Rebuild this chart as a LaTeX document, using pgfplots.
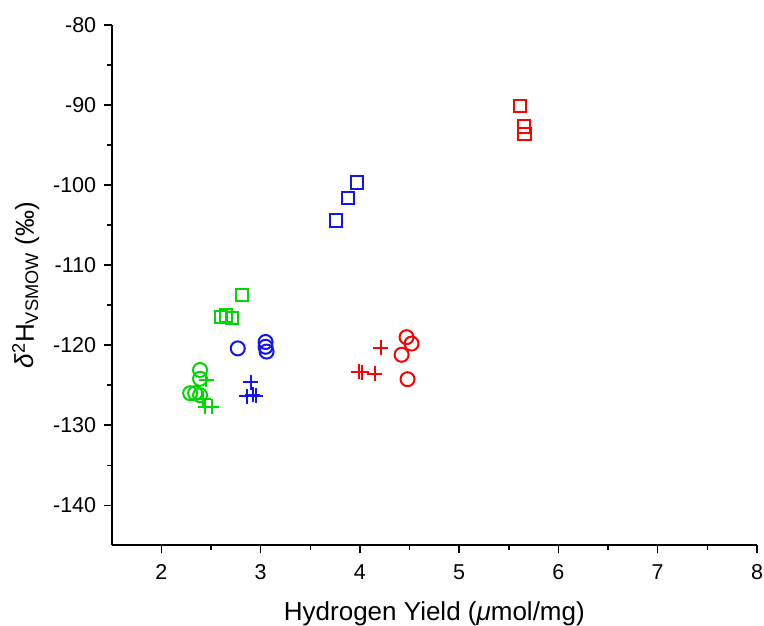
\documentclass[border=0pt]{standalone}
\usepackage{pgfplots}
\pgfplotsset{compat=1.18}
\usepackage{fontspec}
\setmainfont{Liberation Sans}

\definecolor{cred}{RGB}{255,0,0}
\definecolor{cblue}{RGB}{20,20,240}
\definecolor{cgreen}{RGB}{0,215,0}

\begin{document}
\begin{tikzpicture}
\begin{axis}[
  scale only axis,
  width=645.3pt, height=520.3pt,
  xmin=1.5, xmax=8, ymin=-145, ymax=-80,
  axis lines*=left,
  axis line style={line width=1.8pt, black},
  xtick={2,3,...,8}, ytick={-140,-130,...,-80},
  minor tick num=1,
  tick align=outside,
  major tick length=8pt, minor tick length=4.5pt,
  every tick/.style={black, line width=1.5pt},
  /pgf/number format/assume math mode=true,
  tick label style={font=\fontsize{21.5}{25}\selectfont},
  xticklabel style={yshift=-8pt},
  yticklabel style={xshift=-4pt},
  label style={font=\fontsize{26}{30}\selectfont},
  xlabel={Hydrogen Yield (\textit{μ}mol/mg)},
  ylabel={\textit{δ}\textsuperscript{2}H\textsubscript{VSMOW} (‰)},
  xlabel style={at={(axis description cs:0.5,-0.145)}, anchor=base},
  ylabel style={at={(axis description cs:-0.1205,0.5)}, anchor=base},
  clip=false,
  every axis plot/.append style={only marks, line width=2pt},
]
% squares
\addplot[cred, mark=square, mark size=6.2pt] coordinates {
  (5.61,-90.1) (5.65,-92.7) (5.66,-93.6)};
\addplot[cblue, mark=square, mark size=6.2pt] coordinates {
  (3.97,-99.7) (3.88,-101.6) (3.76,-104.4)};
\addplot[cgreen, mark=square, mark size=6.2pt] coordinates {
  (2.81,-113.75) (2.60,-116.5) (2.65,-116.3) (2.71,-116.6)};
% circles
\addplot[cred, mark=o, mark size=7pt] coordinates {
  (4.47,-119.0) (4.52,-119.8) (4.42,-121.2) (4.48,-124.25)};
\addplot[cblue, mark=o, mark size=7pt] coordinates {
  (2.77,-120.4) (3.05,-119.6) (3.05,-120.2) (3.06,-120.8)};
\addplot[cgreen, mark=o, mark size=7pt] coordinates {
  (2.39,-123.1) (2.39,-124.2) (2.29,-126.0) (2.34,-126.0) (2.39,-126.25)};
% crosses
\addplot[cred, mark=+, mark size=7.5pt] coordinates {
  (4.21,-120.3) (3.99,-123.3) (4.02,-123.4) (4.15,-123.55)};
\addplot[cblue, mark=+, mark size=7.5pt] coordinates {
  (2.90,-124.6) (2.86,-126.4) (2.92,-126.2) (2.95,-126.3)};
\addplot[cgreen, mark=+, mark size=7.5pt] coordinates {
  (2.45,-124.3) (2.42,-126.7) (2.44,-127.7) (2.51,-127.7)};
\end{axis}
\pgfresetboundingbox
\path (-111.7pt,-80.7pt) rectangle (652.3pt,545.3pt);
\end{tikzpicture}
\end{document}
